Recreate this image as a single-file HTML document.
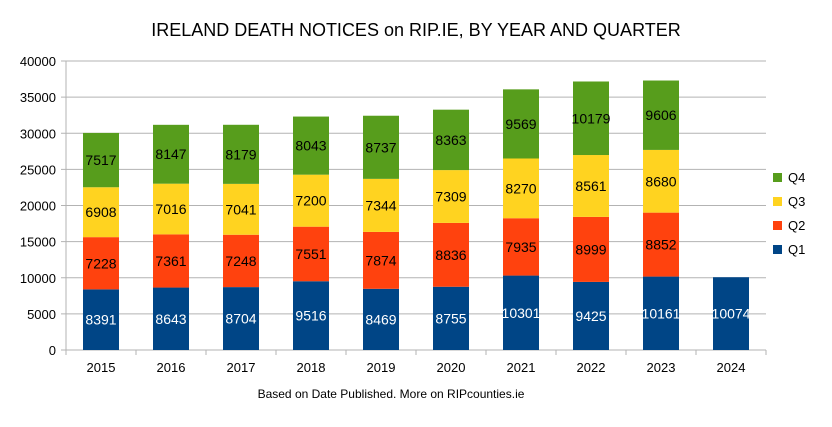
<!DOCTYPE html>
<html><head><meta charset="utf-8"><style>
body{margin:0;background:#fff;font-family:"Liberation Sans",sans-serif}
</style></head><body>
<svg id="chart" width="832" height="422" xmlns="http://www.w3.org/2000/svg" font-family="Liberation Sans, sans-serif">
<rect width="832" height="422" fill="#fff"/>
<text x="416" y="36" text-anchor="middle" font-size="18">IRELAND DEATH NOTICES on RIP.IE, BY YEAR AND QUARTER</text>
<text x="391" y="398" text-anchor="middle" font-size="12">Based on Date Published. More on RIPcounties.ie</text>
<g id="grid"></g><g id="bars"></g><g id="axes"></g><g id="legend"></g>
</svg>
<script>
const years=["2015","2016","2017","2018","2019","2020","2021","2022","2023","2024"];
const q1=[8391,8643,8704,9516,8469,8755,10301,9425,10161,10074];
const q2=[7228,7361,7248,7551,7874,8836,7935,8999,8852,null];
const q3=[6908,7016,7041,7200,7344,7309,8270,8561,8680,null];
const q4=[7517,8147,8179,8043,8737,8363,9569,10179,9606,null];
const yTicks=[0,5000,10000,15000,20000,25000,30000,35000,40000];
const seriesNames=["Q1","Q2","Q3","Q4"];
const colors=["#004586","#ff420e","#ffd320","#579d1c"];
const textColors=["#fff","#000","#000","#000"];
const NS="http://www.w3.org/2000/svg";
const X0=66,X1=766,Y0=350,Y1=61,YMAX=40000;
const y=v=>Y0-(v/YMAX)*(Y0-Y1);
const band=(X1-X0)/years.length;
const xc=i=>X0+band*(i+0.5);
const bw=36;
function mk(tag,attrs,parent){const e=document.createElementNS(NS,tag);for(const k in attrs)e.setAttribute(k,attrs[k]);parent.appendChild(e);return e;}
const grid=document.getElementById('grid'),bars=document.getElementById('bars'),axes=document.getElementById('axes'),legend=document.getElementById('legend');
yTicks.forEach(t=>{
 const l=mk('line',{x1:X0-5,x2:X1,y1:y(t),y2:y(t),stroke:'#b3b3b3','stroke-width':1},grid);
 
 
 const tx=mk('text',{x:X0-10,y:y(t)+5,'text-anchor':'end','font-size':13},axes);tx.textContent=t;
 
 
});
mk('line',{x1:X0,x2:X0,y1:Y1,y2:Y0,stroke:'#b3b3b3'},axes);
for(let i=0;i<=years.length;i++){mk('line',{x1:X0+band*i,x2:X0+band*i,y1:Y0,y2:Y0+5,stroke:'#b3b3b3'},axes);}
years.forEach((yr,i)=>{
 const tx=mk('text',{x:xc(i),y:Y0+22,'text-anchor':'middle','font-size':13},axes);tx.textContent=yr;
 
 
 let base=0;
 [q1,q2,q3,q4].forEach((s,k)=>{
  const v=s[i]; if(v==null)return;
  const r=mk('rect',{x:xc(i)-bw/2,y:y(base+v),width:bw,height:y(base)-y(base+v),fill:colors[k]},bars);
  
  
  const lb=mk('text',{x:xc(i),y:(y(base)+y(base+v))/2+5,'text-anchor':'middle','font-size':14,fill:textColors[k]},bars);lb.textContent=v;
  
  
  base+=v;
 });
});
seriesNames.forEach((n,k)=>{
 const ly=253-k*24;
 const g=mk('g',{},legend);
 
 
 mk('rect',{x:773,y:ly-8,width:9,height:9,fill:colors[k]},g);
 const t=mk('text',{x:788,y:ly+1,'font-size':13},g);t.textContent=n;
});
</script>
</body></html>
